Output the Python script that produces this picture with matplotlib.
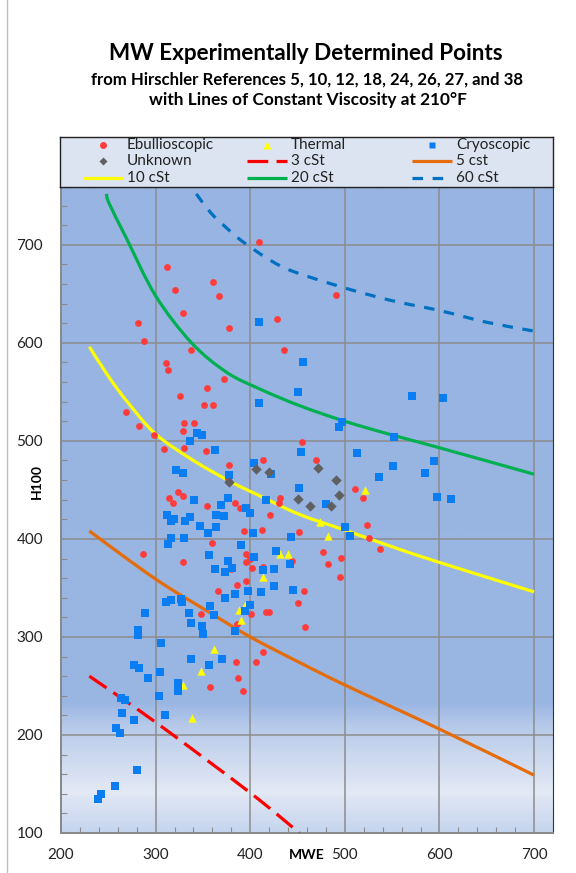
import numpy as np
import matplotlib
matplotlib.use("Agg")
import matplotlib.pyplot as plt
from matplotlib.colors import LinearSegmentedColormap
from matplotlib.lines import Line2D
from matplotlib.path import Path
from matplotlib.patches import PathPatch

plt.rcParams['font.family'] = ['Lato', 'DejaVu Sans']

# experimental points (MWE, H100)
ebu_x = [409, 312, 361, 321, 367, 329, 281, 428, 378, 288, 337, 436, 311, 313, 372, 354, 326, 351, 361,
         491,
         269, 282, 330, 341, 329, 298, 309, 330, 353, 378, 414, 376, 431, 430, 384, 389, 324, 329, 314, 318,
         354, 421, 393, 412, 360, 287, 329, 396, 395, 400, 402, 413, 380, 444, 386, 395, 366, 398, 348, 401,
         417, 420, 450,
         455, 469, 511, 519, 523, 525, 537, 477, 482, 496, 495, 457, 452,
         386, 413, 385, 406, 387, 357, 392, 458]
ebu_y = [703, 677, 662, 654, 648, 630, 620, 624, 615, 602, 593, 593, 579, 572, 563, 554, 546, 537, 537,
         649,
         529, 515, 518, 518, 510, 506, 492, 493, 490, 475, 481, 461, 442, 437, 437, 432, 448, 444, 442, 437,
         434, 424, 408, 409, 396, 385, 376, 385, 376, 380, 370, 371, 369, 377, 353, 357, 347, 348, 323, 323,
         325, 325, 335,
         499, 481, 451, 442, 414, 401, 390, 387, 374, 381, 361, 347, 407,
         313, 285, 274, 274, 258, 249, 245, 310]

thermal_x = [431, 440, 413, 394, 388, 390, 521, 474, 482, 362, 348, 329, 338]
thermal_y = [385, 385, 361, 333, 327, 317, 450, 417, 403, 288, 265, 251, 217]

cryo_x = [409, 409, 450, 456, 571, 604,
          344, 349, 336, 363, 404, 322, 329, 378, 422, 452, 377, 341, 369, 417, 395, 400, 312, 316, 319,
          336, 331, 364, 372, 347, 364, 355, 403, 443, 316, 313, 330, 390, 356, 404, 427, 377, 363, 373,
          381, 413, 425, 442, 425, 445, 398, 411, 384, 373, 311, 316, 327, 328, 358, 400, 394, 289, 335, 362,
          497, 494, 552, 454, 513, 551, 594, 585, 536, 597, 612, 480, 500, 505,
          337, 349, 350, 384, 281, 281, 306, 337, 370, 356, 277, 282, 292, 305, 324, 324, 304, 263, 268,
          264, 310, 277, 258, 262, 280, 257, 242, 239]
cryo_y = [621, 539, 550, 580, 546, 544,
          508, 506, 500, 491, 477, 470, 467, 465, 466, 452, 442, 440, 435, 440, 432, 426, 424, 418, 420,
          422, 418, 424, 423, 413, 412, 406, 406, 402, 401, 395, 401, 394, 384, 382, 388, 377, 369, 366,
          370, 368, 369, 374, 352, 348, 347, 346, 344, 340, 336, 338, 339, 336, 332, 333, 326, 324, 324, 322,
          519, 514, 504, 489, 488, 474, 479, 467, 463, 443, 441, 436, 412, 403,
          314, 311, 303, 306, 307, 302, 294, 278, 278, 271, 271, 268, 258, 264, 253, 245, 240, 238, 236,
          222, 220, 215, 207, 202, 164, 148, 140, 135]

unk_x = [406, 420, 378, 451, 472, 491, 494, 463, 485]
unk_y = [471, 468, 458, 441, 472, 460, 445, 434, 434]

# lines of constant viscosity at 210F
v3_x = [230, 300, 400, 452]
v3_y = [260, 213, 141, 100]
v5_x = [230, 300, 357, 400, 452, 500, 600, 700]
v5_y = [408, 359, 325, 300, 274, 251, 206, 159]
v10_x = [230, 250, 270, 300, 340, 378, 410, 452, 500, 550, 600, 700]
v10_y = [596, 566, 540, 507, 480, 459, 444, 425, 409, 392, 376, 346]
v20_x = [248, 251, 269, 300, 338, 375, 410, 452, 500, 550, 600, 700]
v20_y = [752, 742, 707, 648, 600, 570, 553, 536, 520, 506, 493, 466]
v60_x = [343, 358, 373, 391, 420, 445, 500, 550, 600, 650, 700]
v60_y = [752, 733, 719, 704, 685, 673, 656, 643, 633, 621, 612]


def smooth_line(ax, xs, ys, **kw):
    # Excel-style smoothed line: cubic bezier segments through the points
    p = np.column_stack([xs, ys]).astype(float)
    n = len(p)
    verts = [p[0]]
    codes = [Path.MOVETO]
    for i in range(n - 1):
        p0 = p[i - 1] if i > 0 else p[i]
        p3 = p[i + 2] if i + 2 < n else p[i + 1]
        c1 = p[i] + (p[i + 1] - p0) / 6
        c2 = p[i + 1] - (p3 - p[i]) / 6
        verts += [c1, c2, p[i + 1]]
        codes += [Path.CURVE4] * 3
    ax.add_patch(PathPatch(Path(verts, codes), fill=False, capstyle='butt', **kw))


W, H = 576, 873
fig = plt.figure(figsize=(W / 100, H / 100), dpi=100)
fig.add_artist(Line2D([7 / W, 7 / W], [0, 1], color='#C0C0C0', lw=1))

ax = fig.add_axes([61 / W, 1 - 833 / H, (553 - 61) / W, (833 - 187) / H])
ax.set_xlim(200, 720)
ax.set_ylim(100, 759)

# plot area gradient
bg = LinearSegmentedColormap.from_list('bg', [(0, '#C6D5EE'), (0.06, '#E3E9F5'), (0.16, '#B9CBEA'),
                                              (0.2, '#9AB6E3'), (1, '#97B4E2')])
grad = np.linspace(0, 1, 300).reshape(-1, 1)
ax.imshow(grad, cmap=bg, extent=[200, 720, 100, 759], origin='lower', aspect='auto', zorder=0)

ax.set_xticks([200, 300, 400, 500, 600, 700])
ax.set_yticks([100, 200, 300, 400, 500, 600, 700])
ax.set_xticks(np.arange(200, 720, 20), minor=True)
ax.set_yticks(np.arange(100, 759, 20), minor=True)
ax.grid(True, which='major', color='#8C8C8C', lw=1.1, zorder=1)
ax.tick_params(which='major', length=0, labelsize=11, colors='#222222')
ax.tick_params(axis='x', which='major', pad=11)
ax.tick_params(axis='y', which='major', pad=13)
ax.tick_params(which='minor', direction='in', length=4, color='#8C8C8C', width=0.8)
for s in ['left', 'bottom']:
    ax.spines[s].set_color('#888888')
    ax.spines[s].set_linewidth(1.4)
ax.spines['right'].set_color('#333333')
ax.spines['top'].set_color('#333333')
ax.set_axisbelow(True)

lw = 2.3
smooth_line(ax, v3_x, v3_y, edgecolor='#FF0000', lw=lw, linestyle=(0, (6.5, 2.6)), zorder=3)
smooth_line(ax, v5_x, v5_y, edgecolor='#E46C0A', lw=lw, zorder=3)
smooth_line(ax, v10_x, v10_y, edgecolor='#FFFF00', lw=lw, zorder=3)
smooth_line(ax, v20_x, v20_y, edgecolor='#00B050', lw=lw, zorder=3)
smooth_line(ax, v60_x, v60_y, edgecolor='#0070C0', lw=lw, linestyle=(0, (3.3, 3.0)), zorder=3)

ax.scatter(ebu_x, ebu_y, s=24, marker='o', color='#FF3B3B', lw=0, zorder=4)
ax.scatter(thermal_x, thermal_y, s=36, marker='^', color='#FFFF00', lw=0, zorder=4)
ax.scatter(cryo_x, cryo_y, s=32, marker='s', color='#0A7DF2', lw=0, zorder=4)
ax.scatter(unk_x, unk_y, s=28, marker='D', color='#606060', lw=0, zorder=4)

fig.text(307 / W, 1 - 855 / H, 'MWE', fontsize=10, fontweight='bold', ha='center', va='center')
fig.text(37 / W, 1 - 481 / H, 'H100', fontsize=10, fontweight='bold', rotation=90, ha='center', va='center')

fig.text(0.5 * (108 + 504) / W, 1 - 53 / H, 'MW Experimentally Determined Points', fontsize=16.2,
         fontweight='bold', ha='center', va='center')
fig.text(0.5 * (91 + 523) / W, 1 - 80 / H, 'from Hirschler References 5, 10, 12, 18, 24, 26, 27, and 38',
         fontsize=12.1, fontweight='bold', ha='center', va='center')
fig.text(0.5 * (156 + 459) / W, 1 - 100 / H, 'with Lines of Constant Viscosity at 210°F',
         fontsize=12.4, fontweight='bold', ha='center', va='center')

# legend box
lax = fig.add_axes([60 / W, 1 - 187 / H, 493 / W, 50 / H])
lax.set_xlim(60, 553)
lax.set_ylim(187, 137)
lax.set_facecolor('#DCE4F2')
lax.set_xticks([])
lax.set_yticks([])
for s in lax.spines.values():
    s.set_color('#222222')
    s.set_linewidth(1)

entries = [
    ('Ebullioscopic', dict(marker='o', color='#FF3B3B', ms=5, ls='none')),
    ('Thermal', dict(marker='^', color='#FFFF00', ms=6, ls='none')),
    ('Cryoscopic', dict(marker='s', color='#0A7DF2', ms=5, ls='none')),
    ('Unknown', dict(marker='D', color='#606060', ms=4.5, ls='none')),
    ('3 cSt', dict(color='#FF0000', lw=lw, dashes=(6.5, 2.6))),
    ('5 cst', dict(color='#E46C0A', lw=lw)),
    ('10 cSt', dict(color='#FFFF00', lw=lw)),
    ('20 cSt', dict(color='#00B050', lw=lw)),
    ('60 cSt', dict(color='#0070C0', lw=lw, dashes=(3.3, 3.0))),
]
col_x = [83, 247, 412]
row_y = [145, 161, 178]
for i, (lab, st) in enumerate(entries):
    x0 = col_x[i % 3]
    y0 = row_y[i // 3]
    if st.get('marker'):
        lax.plot([x0 + 20], [y0], mec='none', **st)
    else:
        lax.plot([x0, x0 + 40], [y0, y0], solid_capstyle='butt', dash_capstyle='butt', **st)
    lax.text(x0 + 44, y0, lab, fontsize=11, va='center', ha='left', color='#222222')

fig.savefig('out.png', dpi=100)
